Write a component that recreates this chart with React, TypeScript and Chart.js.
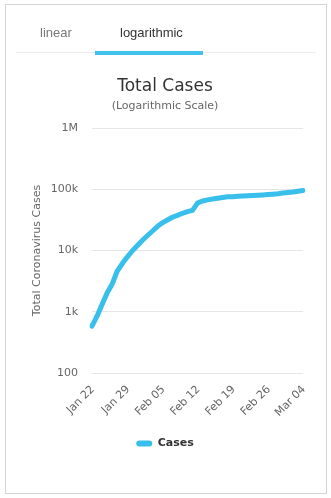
import React, { useEffect, useRef } from "react";
import { Chart, registerables } from "chart.js";

Chart.register(...registerables);

const dates = [
  "Jan 22", "Jan 23", "Jan 24", "Jan 25", "Jan 26", "Jan 27", "Jan 28",
  "Jan 29", "Jan 30", "Jan 31", "Feb 01", "Feb 02", "Feb 03", "Feb 04",
  "Feb 05", "Feb 06", "Feb 07", "Feb 08", "Feb 09", "Feb 10", "Feb 11",
  "Feb 12", "Feb 13", "Feb 14", "Feb 15", "Feb 16", "Feb 17", "Feb 18",
  "Feb 19", "Feb 20", "Feb 21", "Feb 22", "Feb 23", "Feb 24", "Feb 25",
  "Feb 26", "Feb 27", "Feb 28", "Feb 29", "Mar 01", "Mar 02", "Mar 03",
  "Mar 04",
];

const cases = [
  580, 845, 1317, 2015, 2800, 4581, 6058,
  7813, 9823, 11950, 14553, 17391, 20630, 24545,
  28266, 31439, 34876, 37552, 40553, 43099, 45134,
  59287, 64438, 67100, 69197, 71329, 73332, 75184,
  75700, 76677, 77673, 78651, 79205, 80087, 80828,
  81820, 83112, 84615, 86604, 88585, 90443, 93016,
  95314,
];

const xTickEvery = 7;
const yTickValues = [100, 1000, 10000, 100000, 1000000];
const yTickLabels = ["100", "1k", "10k", "100k", "1M"];

const tabs = ["linear", "logarithmic"];

const BLUE = "#38bfec";
const FONT = "'DejaVu Sans', sans-serif";

export default function App() {
  const canvasRef = useRef<HTMLCanvasElement | null>(null);

  useEffect(() => {
    const ctx = canvasRef.current;
    if (!ctx) return;
    const chart = new Chart(ctx, {
      type: "line",
      data: {
        labels: dates,
        datasets: [
          {
            label: "Cases",
            data: cases,
            borderColor: BLUE,
            backgroundColor: BLUE,
            borderWidth: 5,
            pointRadius: 0,
            pointHoverRadius: 0,
            borderCapStyle: "round",
            borderJoinStyle: "round",
            tension: 0,
            fill: false,
          },
        ],
      },
      options: {
        responsive: false,
        animation: false,
        devicePixelRatio: 1,
        layout: { padding: { top: 76.5, left: 27, right: 28, bottom: 39 } },
        plugins: {
          tooltip: { enabled: false },
          title: {
            display: true,
            text: "Total Cases",
            color: "#333333",
            font: { family: FONT, size: 17, weight: "normal" },
            padding: { top: 0, bottom: 1 },
          },
          subtitle: {
            display: true,
            text: "(Logarithmic Scale)",
            color: "#666666",
            font: { family: FONT, size: 11, weight: "normal" },
            padding: { top: 2, bottom: 14.9 },
          },
          legend: {
            position: "bottom",
            labels: {
              color: "#333333",
              font: { family: FONT, size: 11, weight: "bold" },
              boxWidth: 16,
              boxHeight: 6,
              useBorderRadius: true,
              borderRadius: 3,
              padding: 10,
              generateLabels: (c: any) =>
                Chart.defaults.plugins.legend.labels
                  .generateLabels(c)
                  .map((l: any) => ({ ...l, lineWidth: 0 })),
            },
          },
        },
        scales: {
          x: {
            type: "category",
            offset: false,
            grid: { display: false, drawTicks: false },
            border: { display: false },
            afterBuildTicks: (scale: any) => {
              scale.ticks = scale.ticks.filter(
                (t: any) => t.value % xTickEvery === 0
              );
            },
            afterFit: (scale: any) => {
              scale.height = 55;
            },
            ticks: {
              autoSkip: false,
              maxRotation: 45,
              minRotation: 45,
              padding: 10,
              labelOffset: 1,
              color: "#666666",
              font: { family: FONT, size: 11 },
            },
          },
          y: {
            type: "logarithmic",
            min: 100,
            max: 1000000,
            grid: { color: "#e6e6e6", drawTicks: false, lineWidth: 1 },
            border: { display: false },
            afterBuildTicks: (scale: any) => {
              scale.ticks = yTickValues.map((v) => ({ value: v }));
            },
            afterFit: (scale: any) => {
              scale.width = 65;
            },
            ticks: {
              padding: 14,
              color: "#666666",
              font: { family: FONT, size: 11 },
              callback: (v: any) => {
                const i = yTickValues.indexOf(Number(v));
                return i >= 0 ? yTickLabels[i] : "";
              },
            },
            title: {
              display: true,
              text: "Total Coronavirus Cases",
              color: "#666666",
              font: { family: FONT, size: 11 },
              padding: { top: 3.4, bottom: 0 },
            },
          },
        },
      },
    } as any);
    return () => chart.destroy();
  }, []);

  return (
    <div
      style={{
        position: "absolute",
        left: 0,
        top: 0,
        width: 331,
        height: 498,
        background: "#ffffff",
        overflow: "hidden",
      }}
    >
      <canvas
        ref={canvasRef}
        width={331}
        height={498}
        style={{ position: "absolute", left: 0, top: 0, width: 331, height: 498 }}
      />
      <div
        style={{
          position: "absolute",
          left: 5,
          top: 4,
          width: 320,
          height: 488,
          border: "1px solid #d4d4d4",
          pointerEvents: "none",
        }}
      />
      <div
        style={{
          position: "absolute",
          left: 16,
          top: 52,
          width: 300,
          height: 1,
          background: "#ececec",
        }}
      />
      <div
        style={{
          position: "absolute",
          left: 95,
          top: 51,
          width: 108,
          height: 4,
          background: "#3fc3ea",
        }}
      />
      <div
        style={{
          position: "absolute",
          left: 40,
          top: 25,
          fontFamily: "'Liberation Sans', Arial, sans-serif",
          fontSize: 13,
          lineHeight: "16px",
          color: "#777777",
        }}
      >
        {tabs[0]}
      </div>
      <div
        style={{
          position: "absolute",
          left: 120,
          top: 25,
          fontFamily: "'Liberation Sans', Arial, sans-serif",
          fontSize: 13,
          lineHeight: "16px",
          color: "#333333",
        }}
      >
        {tabs[1]}
      </div>
    </div>
  );
}
